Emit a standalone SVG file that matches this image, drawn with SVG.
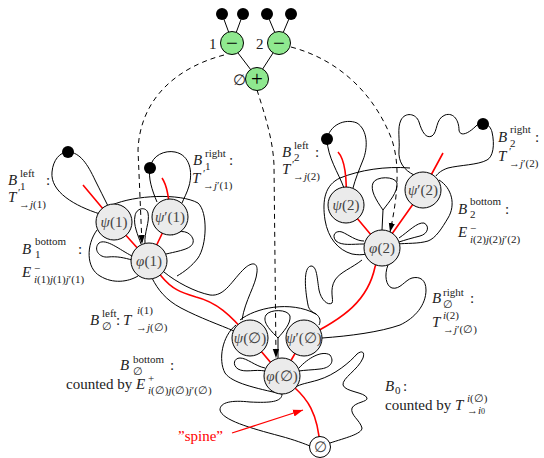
<svg xmlns="http://www.w3.org/2000/svg" width="544" height="458" viewBox="0 0 544 458">
<defs>
<style>
.b{fill:none;stroke:#000;stroke-width:1}
.r{fill:none;stroke:#f00;stroke-width:1.6}
.d{fill:none;stroke:#000;stroke-width:1;stroke-dasharray:5 4}
.nd{fill:#ebebeb;stroke:#000;stroke-width:1}
.gr{fill:#8fe88f;stroke:#000;stroke-width:1}
.dot{fill:#000}
.t{font-family:"Liberation Serif","DejaVu Serif",serif;font-size:15px;fill:#222}
.nl{font-family:"Liberation Serif","DejaVu Serif",serif;font-size:15px;fill:#444;text-anchor:middle}
.op{font-family:"Liberation Serif","DejaVu Serif",serif;font-size:21px;fill:#000;text-anchor:middle}
.s{font-size:11px}
.i{font-style:italic}
</style>
<marker id="ah" viewBox="0 0 10 10" refX="10" refY="5" markerWidth="9" markerHeight="9" orient="auto" markerUnits="userSpaceOnUse"><path d="M0,1.5 L10,5 L0,8.5 z" fill="#000"/></marker>
<marker id="ahr" viewBox="0 0 10 10" refX="10" refY="5" markerWidth="10" markerHeight="10" orient="auto" markerUnits="userSpaceOnUse"><path d="M0,1.5 L10,5 L0,8.5 z" fill="#f00"/></marker>
</defs>

<g id="regions">
<path class="b" d="M100,214 C75,206 50,192 52,172 C53,160 60,152 68,152 C80,152 88,165 95,180 C100,190 104,198 108,206"/>
<path class="b" d="M157,202 C152,190 148,178 150,168 C152,155 165,150 175,152 C190,155 193,172 189,186 C187,193 184,198 182,203"/>
<path class="b" d="M112,205 C135,195 180,193 198,203 C208,212 207,245 198,258 C192,266 184,272 177,276"/>
<path class="b" d="M97,230 C86,245 86,268 100,276 C113,284 128,282 138,276"/>
<path class="b" d="M132,256 C120,250 106,238 99,243 C93,249 99,258 108,257 C117,256 125,258 132,260"/>
<path class="b" d="M141,244 C138,235 133,225 135,216 C136,208 146,206 148,213 C150,222 144,232 145,244"/>
<path class="b" d="M172,235 C180,229 190,231 193,239 C195,248 184,250 166,254"/>
<path class="b" d="M152,278 C158,290 166,300 181,308 C200,318 220,325 234,331"/>
<path class="b" d="M164,272 C176,282 195,292 210,295 C225,297 232,280 245,268 C252,262 258,262 257,272 C256,285 245,300 242,320"/>

<path class="b" d="M344,188 C338,172 328,158 327,140 C329,125 345,118 357,123 C368,130 368,148 363,160 C359,170 355,180 353,188"/>
<path class="b" d="M410,168 C385,166 360,170 340,178 C325,185 322,200 325,220 C328,238 338,250 352,254 C358,255 362,255 366,254"/>
<path class="b" d="M414,175 C404,170 398,162 399,150 C400,140 397,128 401,120 C405,112 416,113 419,122 C422,132 426,139 432,136 C438,132 435,119 445,115 C454,112 459,121 459,130 C460,137 468,134 476,126 C482,120 490,124 492,132 C495,145 493,157 487,160 C478,165 460,165 448,168 C442,170 438,173 436,176"/>
<path class="b" d="M439,180 C452,188 456,205 448,218 C442,228 436,238 428,241 C418,244 406,243 398,244"/>
<path class="b" d="M399,238 C408,232 417,222 424,223 C430,226 428,234 420,236 C412,238 405,240 399,242"/>
<path class="b" d="M364,244 C352,244 342,246 336,241 C331,235 336,230 342,232 C349,235 356,241 364,241"/>
<path class="b" d="M382,230 L383,210 C376,200 370,190 373,183 C376,176 395,176 397,183 C398,192 389,202 383,210"/>
<path class="b" d="M388,265 C384,275 386,286 392,288 C400,290 405,280 412,278 C420,276 426,280 426,290 C426,305 415,318 400,325 C380,332 350,336 322,338"/>
<path class="b" d="M362,260 C352,268 340,272 335,280 C329,290 334,300 332,303 C328,306 321,300 319,290 C317,278 317,266 311,266 C303,267 305,290 308,305 C309,310 312,312 316,314"/>

<path class="b" d="M240,320 C255,308 290,300 316,314 C320,317 321,321 319,325"/>
<path class="b" d="M236,325 C222,336 218,360 225,373 C232,383 255,388 282,394"/>
<path class="b" d="M265,371 C255,369 245,373 238,369 C232,365 234,358 240,358 C247,358 255,366 265,368"/>
<path class="b" d="M278,358 L278,338 C270,330 262,322 266,315 C270,309 288,309 290,316 C291,324 283,332 278,338"/>
<path class="b" d="M299,368 C308,358 322,350 330,355 C335,362 330,368 320,369 C312,370 305,370 299,371"/>

<path class="b" d="M282,394 C282,402 270,403 250,402 C232,400 220,402 220,410 C222,420 250,428 280,436 C295,440 305,444 310,446"/>
<path class="b" d="M330,443 C345,438 362,434 362,428 C360,420 350,415 352,408 C355,402 368,402 367,398 C365,392 345,392 343,385 C342,378 358,370 363,358 C365,352 362,350 357,354 C350,362 335,375 318,380 C308,383 300,384 296,387"/>
</g>

<g id="connectors">
<path class="r" d="M83,185 L114,222 L149,261"/>
<path class="r" d="M162,178 Q169,188 170,217 L149,261"/>
<path class="r" d="M149,261 L162,277 C172,289 180,292 196,297 C216,302 230,314 250,338"/>
<path class="r" d="M338,152 Q348,163 346,205 L382,248"/>
<path class="r" d="M443,153 L423,190 L382,248"/>
<path class="r" d="M382,248 L375,267 C368,300 345,318 304,338"/>
<path class="r" d="M250,338 L282,376 L304,338"/>
<path class="r" d="M282,376 L295,388 C306,398 318,412 320,447"/>
<path fill="none" stroke="#000" d="M222,14 L229,33 M243,14 L236,33 M267,14 L275,33 M291,14 L283,33 M238,53 L251,70 M273,53 L262,70"/>
<path class="d" d="M224,55 C175,68 140,100 138,150 L142,244" marker-end="url(#ah)"/>
<path class="d" d="M291,47 C340,60 375,95 392,140 C400,165 398,195 390,232" marker-end="url(#ah)"/>
<path class="d" d="M257,90 C265,115 273,140 274,165 L276,358" marker-end="url(#ah)"/>
<path fill="none" stroke="#f00" stroke-width="1.3" d="M232,433 L303,410" marker-end="url(#ahr)"/>
</g>

<g id="tree">
<circle class="dot" cx="222" cy="14" r="6"/>
<circle class="dot" cx="243" cy="14" r="6"/>
<circle class="dot" cx="267" cy="14" r="6"/>
<circle class="dot" cx="291" cy="14" r="6"/>
<g id="m1"><circle class="gr" cx="232" cy="43" r="11.5"/><text class="op" x="232" y="50">−</text><text class="t" x="209" y="49">1</text></g>
<g id="m2"><circle class="gr" cx="279" cy="43" r="11.5"/><text class="op" x="279" y="50">−</text><text class="t" x="256" y="49">2</text></g>
<g id="p0"><circle class="gr" cx="257" cy="79" r="11.5"/><text class="op" x="257" y="86">+</text><text class="t" x="233" y="85">∅</text></g>
</g>

<g id="dots">
<circle class="dot" cx="68" cy="152" r="6"/>
<circle class="dot" cx="150" cy="168" r="6"/>
<circle class="dot" cx="327" cy="139" r="6"/>
<circle class="dot" cx="483" cy="124" r="6"/>
</g>

<g id="psi1"><circle class="nd" cx="114" cy="222" r="18"/><text class="nl" x="114" y="227"><tspan class="i">ψ</tspan>(1)</text></g>
<g id="psip1"><circle class="nd" cx="170" cy="217" r="18"/><text class="nl" x="170" y="222"><tspan class="i">ψ</tspan>′(1)</text></g>
<g id="phi1"><circle class="nd" cx="149" cy="261" r="18"/><text class="nl" x="149" y="266"><tspan class="i">φ</tspan>(1)</text></g>
<g id="psi2"><circle class="nd" cx="346" cy="205" r="18"/><text class="nl" x="346" y="210"><tspan class="i">ψ</tspan>(2)</text></g>
<g id="psip2"><circle class="nd" cx="423" cy="190" r="18"/><text class="nl" x="423" y="195"><tspan class="i">ψ</tspan>′(2)</text></g>
<g id="phi2"><circle class="nd" cx="382" cy="248" r="18"/><text class="nl" x="382" y="253"><tspan class="i">φ</tspan>(2)</text></g>
<g id="psi0"><circle class="nd" cx="250" cy="338" r="18"/><text class="nl" x="250" y="343"><tspan class="i">ψ</tspan>(∅)</text></g>
<g id="psip0"><circle class="nd" cx="304" cy="338" r="18"/><text class="nl" x="304" y="343"><tspan class="i">ψ</tspan>′(∅)</text></g>
<g id="phi0"><circle class="nd" cx="282" cy="376" r="18"/><text class="nl" x="282" y="381"><tspan class="i">φ</tspan>(∅)</text></g>
<g id="root"><circle cx="320" cy="447" r="10.5" fill="#fff" stroke="#000"/><text class="nl" x="320" y="452">∅</text></g>

<g id="labels">
<text class="t i" x="8" y="185">B</text><text class="t s" x="20" y="177">left</text><text class="t s" x="20" y="190">1</text><text class="t" x="46" y="185">:</text>
<text class="t i" x="8" y="202">T</text><text class="t s" x="18" y="196">′</text><text class="t s" x="19" y="208">→<tspan class="i">j</tspan>(1)</text>

<text class="t i" x="193" y="165">B</text><text class="t s" x="205" y="157">right</text><text class="t s" x="205" y="170">1</text><text class="t" x="229" y="165">:</text>
<text class="t i" x="192" y="183">T</text><text class="t s" x="203" y="177">′</text><text class="t s" x="203" y="189">→<tspan class="i">j</tspan>′(1)</text>

<text class="t i" x="22" y="254">B</text><text class="t s" x="35" y="245">bottom</text><text class="t s" x="35" y="258">1</text><text class="t" x="78" y="254">:</text>
<text class="t i" x="22" y="277">E</text><text class="t s" x="34" y="272">−</text><text class="t s" x="34" y="283"><tspan class="i">i</tspan>(1)<tspan class="i">j</tspan>(1)<tspan class="i">j</tspan>′(1)</text>

<text class="t i" x="90" y="325">B</text><text class="t s" x="102" y="317">left</text><text class="t s" x="102" y="330">∅</text><text class="t" x="116" y="325">:</text>
<text class="t i" x="123" y="325">T</text><text class="t s" x="137" y="314"><tspan class="i">i</tspan>(1)</text><text class="t s" x="136" y="331">→<tspan class="i">j</tspan>(∅)</text>

<text class="t i" x="120" y="370">B</text><text class="t s" x="133" y="363">bottom</text><text class="t s" x="133" y="375">∅</text><text class="t" x="170" y="370">:</text>
<text class="t" x="66" y="389">counted by <tspan class="i">E</tspan></text><text class="t s" x="148" y="382">+</text><text class="t s" x="148" y="394"><tspan class="i">i</tspan>(∅)<tspan class="i">j</tspan>(∅)<tspan class="i">j</tspan>′(∅)</text>

<text class="t i" x="282" y="157">B</text><text class="t s" x="294" y="149">left</text><text class="t s" x="294" y="161">2</text><text class="t" x="315" y="157">:</text>
<text class="t i" x="282" y="174">T</text><text class="t s" x="292" y="168">′</text><text class="t s" x="293" y="180">→<tspan class="i">j</tspan>(2)</text>

<text class="t i" x="498" y="142">B</text><text class="t s" x="510" y="133">right</text><text class="t s" x="510" y="147">2</text><text class="t" x="535" y="142">:</text>
<text class="t i" x="498" y="161">T</text><text class="t s" x="509" y="155">′</text><text class="t s" x="509" y="167">→<tspan class="i">j</tspan>′(2)</text>

<text class="t i" x="458" y="214">B</text><text class="t s" x="470" y="205">bottom</text><text class="t s" x="470" y="218">2</text><text class="t" x="505" y="214">:</text>
<text class="t i" x="458" y="237">E</text><text class="t s" x="470" y="232">−</text><text class="t s" x="470" y="243"><tspan class="i">i</tspan>(2)<tspan class="i">j</tspan>(2)<tspan class="i">j</tspan>′(2)</text>

<text class="t i" x="432" y="303">B</text><text class="t s" x="443" y="296">right</text><text class="t s" x="443" y="308">∅</text><text class="t" x="470" y="303">:</text>
<text class="t i" x="432" y="327">T</text><text class="t s" x="443" y="319"><tspan class="i">i</tspan>(2)</text><text class="t s" x="443" y="333">→<tspan class="i">j</tspan>′(∅)</text>

<text class="t i" x="385" y="391">B</text><text class="t s" x="395" y="394">0</text><text class="t" x="403" y="391">:</text>
<text class="t" x="385" y="410">counted by <tspan class="i">T</tspan></text><text class="t s" x="467" y="402"><tspan class="i">i</tspan>(∅)</text><text class="t s" x="467" y="414">→<tspan class="i">i</tspan><tspan font-size="8px">0</tspan></text>

<text class="t" x="178" y="441" style="fill:#f00">”spine”</text>
</g>
</svg>
